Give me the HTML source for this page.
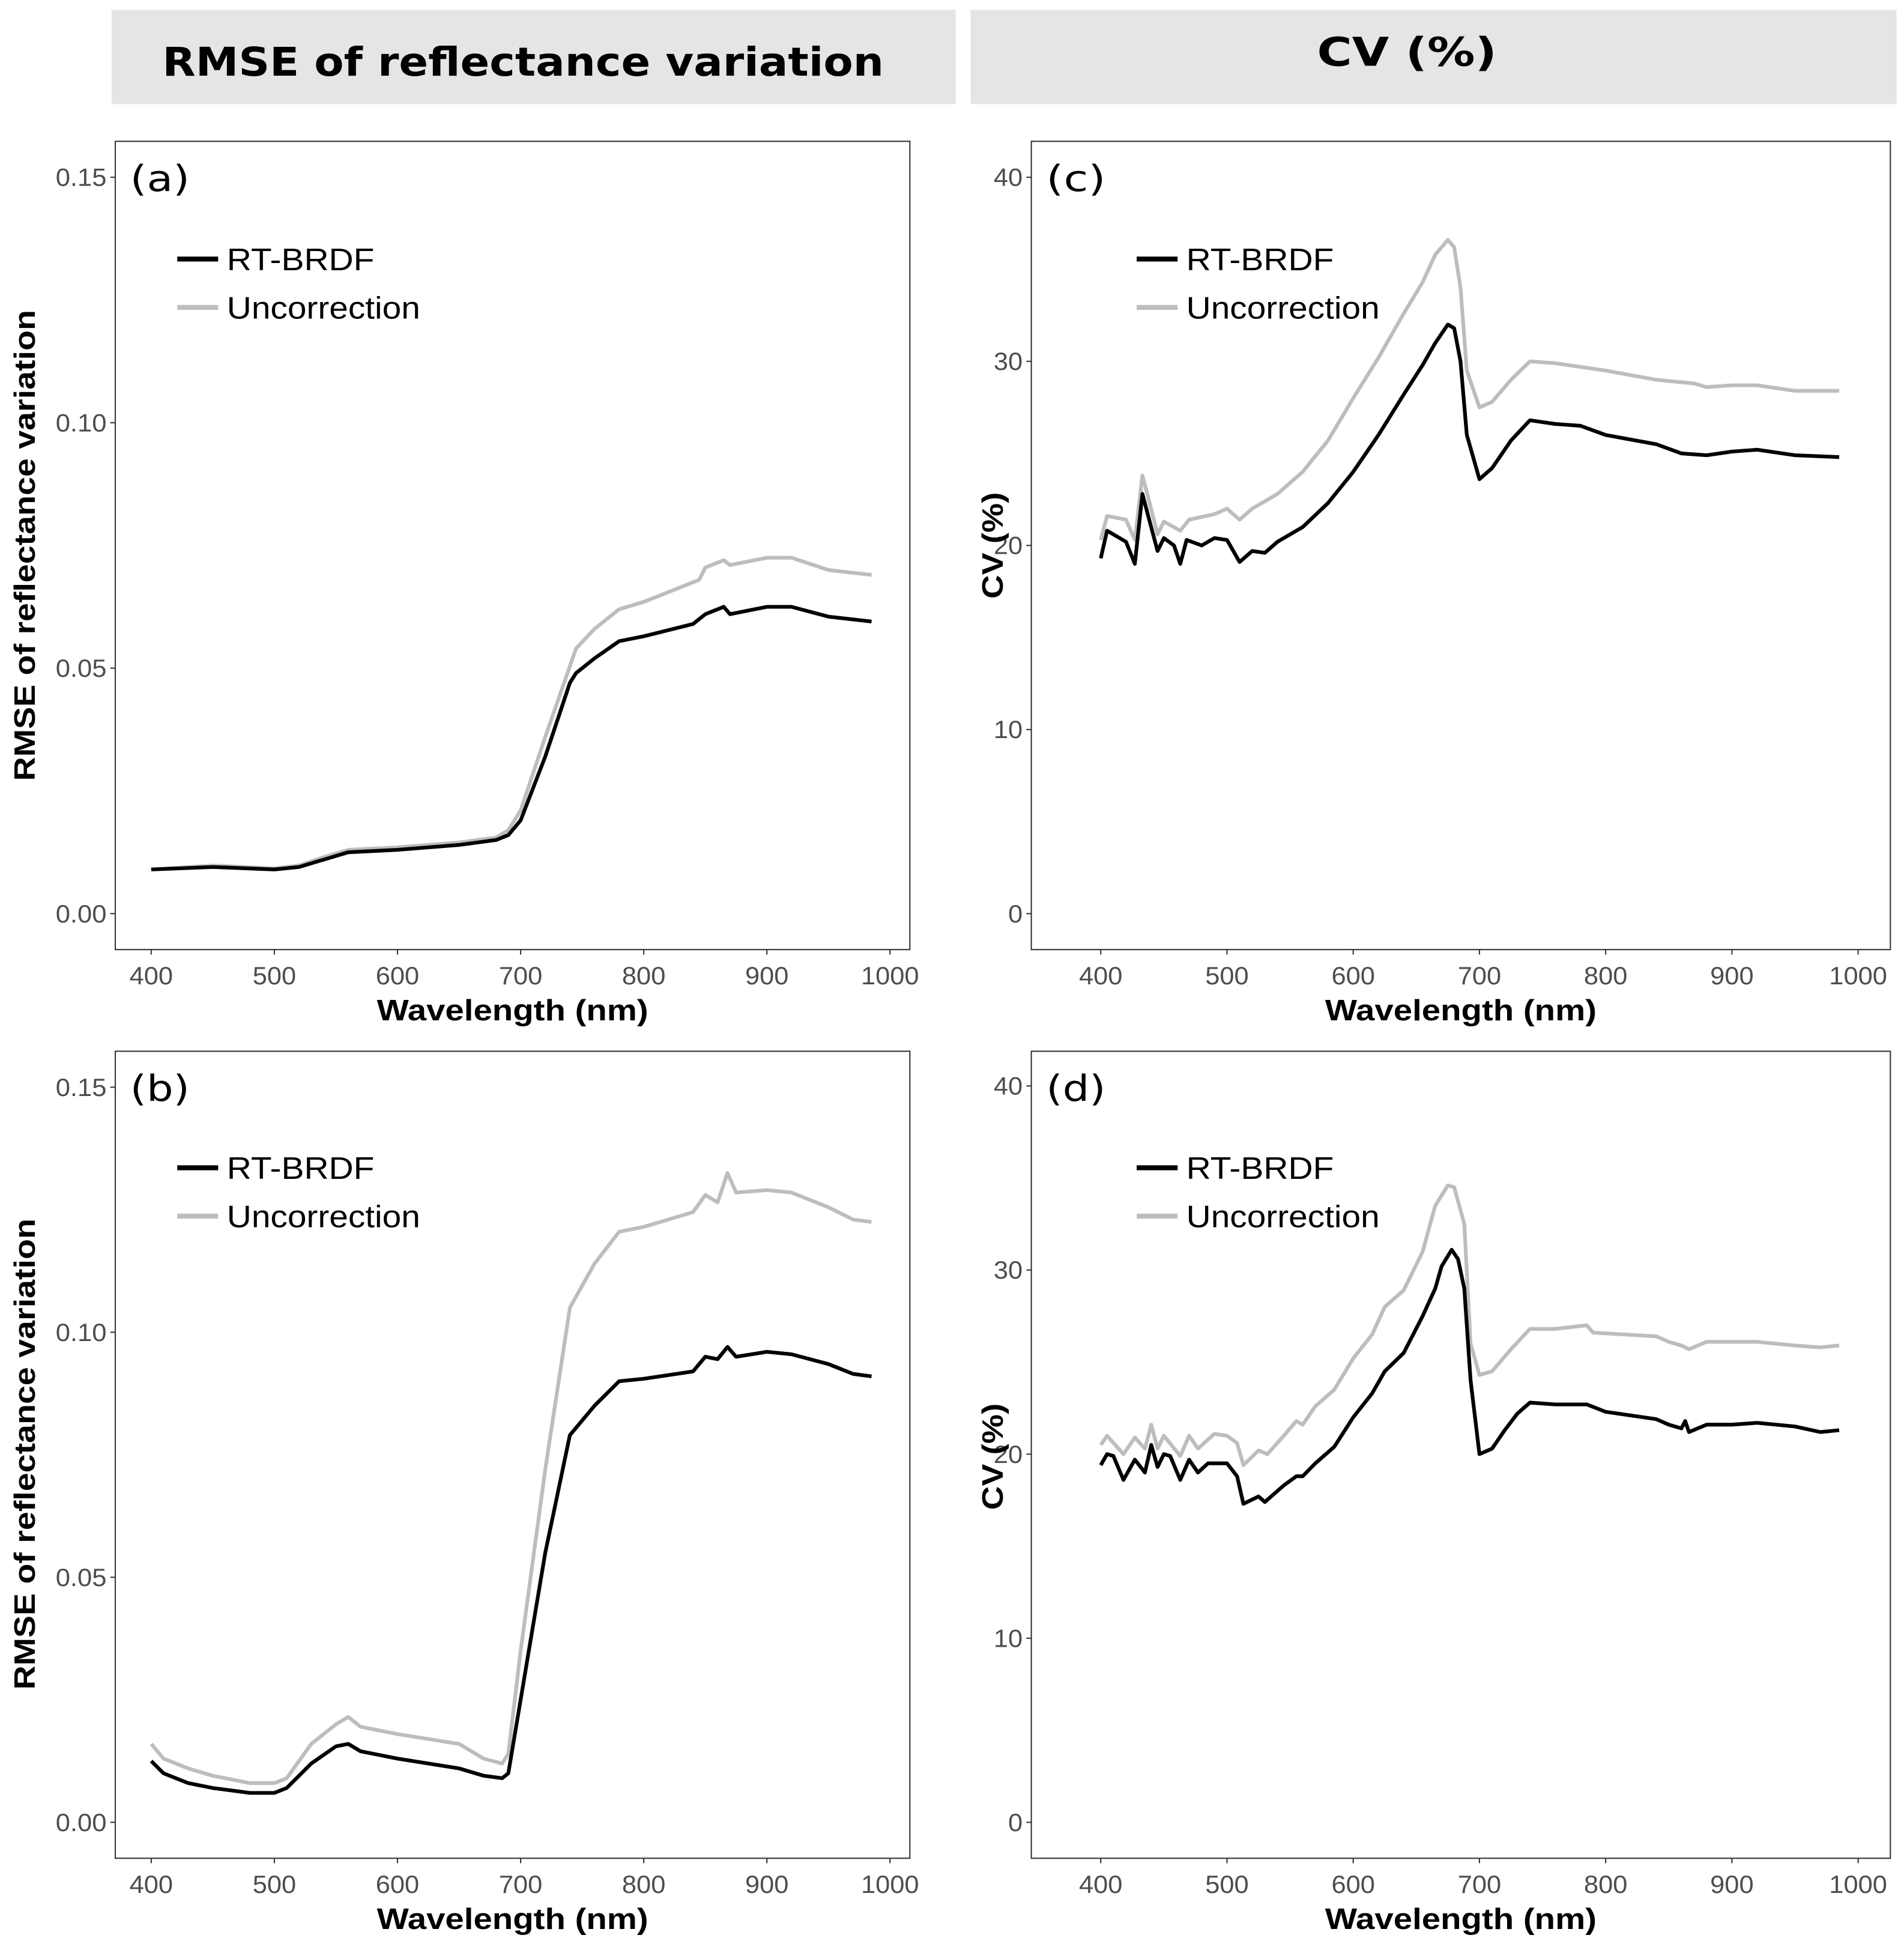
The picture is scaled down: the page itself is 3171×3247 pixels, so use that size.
<!DOCTYPE html>
<html><head><meta charset="utf-8">
<style>
html,body{margin:0;padding:0;background:#fff;}
svg{display:block;}
</style></head>
<body>
<svg id="fig" width="3171" height="3247" viewBox="0 0 1536 1573" preserveAspectRatio="none" xmlns="http://www.w3.org/2000/svg">
<rect x="0" y="0" width="1536" height="1573" fill="#fff"/>
<rect x="90" y="8" width="681" height="76" fill="#e5e5e5"/>
<text x="422" y="61" text-anchor="middle" font-family="DejaVu Sans, Liberation Sans, sans-serif" font-weight="bold" font-size="32" textLength="582" lengthAdjust="spacingAndGlyphs">RMSE of reflectance variation</text>
<rect x="783" y="8" width="747" height="76" fill="#e5e5e5"/>
<text x="1135" y="53" text-anchor="middle" font-family="DejaVu Sans, Liberation Sans, sans-serif" font-weight="bold" font-size="32" textLength="145" lengthAdjust="spacingAndGlyphs">CV (%)</text>
</svg>
<script>
// ---------- data ----------
const xTicks = [400,500,600,700,800,900,1000];
const rmseTicks = [0.00,0.05,0.10,0.15];
const rmseTickLabels = ["0.00","0.05","0.10","0.15"];
const cvTicks = [0,10,20,30,40];
const cvTickLabels = ["0","10","20","30","40"];

const aBlackWl = [400,450,500,520,540,560,600,650,680,690,700,720,740,745,760,780,800,840,850,865,870,900,920,950,985];
const aBlackVal = [0.009,0.0095,0.009,0.0095,0.011,0.0125,0.013,0.014,0.015,0.016,0.019,0.032,0.047,0.049,0.052,0.0555,0.0565,0.059,0.061,0.0625,0.061,0.0625,0.0625,0.0605,0.0595];
const aGrayWl = [400,450,500,520,540,560,600,650,680,690,700,720,745,760,780,800,845,850,865,870,900,920,950,985];
const aGrayVal = [0.009,0.0098,0.0092,0.0098,0.0115,0.013,0.0135,0.0145,0.0155,0.017,0.021,0.036,0.054,0.058,0.062,0.0635,0.068,0.0705,0.072,0.071,0.0725,0.0725,0.070,0.069];

const bBlackWl = [400,410,430,450,480,500,510,530,550,560,570,600,650,670,685,690,700,720,740,760,780,800,840,850,860,868,875,900,920,950,970,985];
const bBlackVal = [0.0125,0.010,0.008,0.007,0.006,0.006,0.007,0.012,0.0155,0.016,0.0145,0.013,0.011,0.0095,0.009,0.010,0.025,0.055,0.079,0.085,0.090,0.0905,0.092,0.095,0.0945,0.097,0.095,0.096,0.0955,0.0935,0.0915,0.091];
const bGrayWl = [400,410,430,450,480,500,510,530,550,560,570,600,650,670,685,690,700,720,740,760,780,800,840,850,860,868,875,900,920,950,970,985];
const bGrayVal = [0.016,0.013,0.011,0.0095,0.008,0.008,0.009,0.016,0.020,0.0215,0.0195,0.018,0.016,0.013,0.012,0.014,0.035,0.072,0.105,0.114,0.1205,0.1215,0.1245,0.128,0.1265,0.1325,0.1285,0.129,0.1285,0.1255,0.123,0.1225];

const cBlackWl = [400,405,420,427,433,438,445,450,458,463,468,480,490,500,510,520,530,540,560,580,600,620,640,655,665,675,680,685,690,700,710,725,740,760,780,800,840,860,880,900,920,950,985];
const cBlackVal = [19.3,20.8,20.2,19.0,22.8,21.5,19.7,20.4,20.0,19.0,20.3,20.0,20.4,20.3,19.1,19.7,19.6,20.2,21.0,22.3,24.0,26.0,28.2,29.8,31.0,32.0,31.8,30.0,26.0,23.6,24.2,25.7,26.8,26.6,26.5,26.0,25.5,25.0,24.9,25.1,25.2,24.9,24.8];
const cGrayWl = [400,405,420,427,433,438,445,450,463,470,490,500,510,520,540,560,580,600,620,640,655,665,675,680,685,690,700,710,725,740,760,780,800,840,870,880,900,920,950,985];
const cGrayVal = [20.3,21.6,21.4,20.3,23.8,22.5,20.6,21.3,20.8,21.4,21.7,22.0,21.4,22.0,22.8,24.0,25.7,28.0,30.2,32.6,34.3,35.8,36.6,36.2,34.0,29.5,27.5,27.8,29.0,30.0,29.9,29.7,29.5,29.0,28.8,28.6,28.7,28.7,28.4,28.4];

const dBlackWl = [400,405,410,418,427,435,440,445,450,455,463,470,477,485,500,508,513,525,530,545,555,560,570,585,600,615,625,640,655,665,670,678,683,688,693,700,710,720,730,740,760,785,800,840,850,860,863,866,880,900,920,950,970,985];
const dBlackVal = [19.4,20.0,19.9,18.6,19.7,19.0,20.5,19.3,20.0,19.9,18.6,19.7,19.0,19.5,19.5,18.8,17.3,17.7,17.4,18.3,18.8,18.8,19.5,20.4,22.0,23.3,24.5,25.5,27.5,29.0,30.2,31.1,30.6,29.0,24.0,20.0,20.3,21.3,22.2,22.8,22.7,22.7,22.3,21.9,21.6,21.4,21.8,21.2,21.6,21.6,21.7,21.5,21.2,21.3];
const dGrayWl = [400,405,418,427,435,440,445,450,463,470,477,490,500,508,513,525,532,545,555,560,570,585,600,615,625,640,655,665,675,680,688,693,700,710,725,740,760,785,790,840,850,860,866,880,900,920,950,970,985];
const dGrayVal = [20.5,21.0,20.0,20.9,20.3,21.6,20.3,21.0,19.9,21.0,20.3,21.1,21.0,20.6,19.4,20.2,20.0,21.0,21.8,21.6,22.6,23.5,25.2,26.5,28.0,28.9,31.0,33.5,34.6,34.5,32.5,26.0,24.3,24.5,25.7,26.8,26.8,27.0,26.6,26.4,26.1,25.9,25.7,26.1,26.1,26.1,25.9,25.8,25.9];

// ---------- drawing ----------
const NS = "http://www.w3.org/2000/svg";
const svg = document.getElementById('fig');
function mk(tag, attrs, parent){
  const e = document.createElementNS(NS, tag);
  for (const k in attrs) e.setAttribute(k, attrs[k]);
  (parent||svg).appendChild(e);
  return e;
}
const FONT = "Liberation Sans, DejaVu Sans, sans-serif";
function numLen(s){ let w=0; for (const c of s) w += (c === '.') ? 6 : 11.7; return w; }

function panel(p){
  const g = mk('g', {});
  
  
  const xs = v => p.x400 + (v - 400) * (p.x1000 - p.x400) / 600;
  const ys = v => p.y0 + (v - p.yMin) * (p.yTop - p.y0) / (p.yMax - p.yMin);
  const frame = mk('rect', {x:p.L, y:p.T, width:p.R-p.L, height:p.B-p.T, fill:'none', stroke:'#333', 'stroke-width':1}, g);
  
  
  p.yTicks.forEach((t, i) => {
    const y = ys(t);
    const tk = mk('line', {x1:p.L-4, x2:p.L, y1:y, y2:y, stroke:'#333', 'stroke-width':1}, g);
    
    
    const tl = mk('text', {x:p.L-7, y:y+7, 'text-anchor':'end', 'font-family':FONT, 'font-size':20, fill:'#4d4d4d', textLength:numLen(p.yLabels[i]), lengthAdjust:'spacingAndGlyphs'}, g);
    
    
    tl.textContent = p.yLabels[i];
  });
  xTicks.forEach(t => {
    const x = xs(t);
    const tk = mk('line', {x1:x, x2:x, y1:p.B, y2:p.B+4, stroke:'#333', 'stroke-width':1}, g);
    
    
    const tl = mk('text', {x:x, y:p.B+28, 'text-anchor':'middle', 'font-family':FONT, 'font-size':20, fill:'#4d4d4d', textLength:numLen(String(t)), lengthAdjust:'spacingAndGlyphs'}, g);
    
    
    tl.textContent = String(t);
  });
  const xt = mk('text', {x:(p.L+p.R)/2, y:p.B+57, 'text-anchor':'middle', 'font-family':FONT, 'font-weight':'bold', 'font-size':24, fill:'#000', textLength:219, lengthAdjust:'spacingAndGlyphs'}, g);
  
  
  xt.textContent = 'Wavelength (nm)';
  const ytx = p.ytX, yty = p.ytY;
  const yt = mk('text', {x:ytx, y:yty, transform:'rotate(-90 '+ytx+' '+yty+')', 'text-anchor':'middle', 'font-family':FONT, 'font-weight':'bold', 'font-size':24, fill:'#000', textLength:p.ytLen, lengthAdjust:'spacingAndGlyphs'}, g);
  
  
  yt.textContent = p.yTitle;
  const series = [[p.grayWl, p.grayVal, '#bdbdbd', 'uncorrection-line'], [p.blackWl, p.blackVal, '#000', 'rt-brdf-line']];
  series.forEach(s => {
    const d = s[0].map((w, i) => (i ? 'L' : 'M') + xs(w).toFixed(2) + ' ' + ys(s[1][i]).toFixed(2)).join(' ');
    const path = mk('path', {d:d, fill:'none', stroke:s[2], 'stroke-width':3, 'stroke-linejoin':'round'}, g);
    
    
  });
  const pl = mk('text', {x:p.L+12, y:p.T+40, 'font-family':"DejaVu Sans, sans-serif", 'font-size':29, fill:'#000', textLength:48, lengthAdjust:'spacingAndGlyphs'}, g);
  
  
  pl.textContent = '(' + p.id + ')';
  const lg = mk('g', {}, g);
  
  
  [['RT-BRDF', '#000', 0, 119], ['Uncorrection', '#bdbdbd', 39, 156]].forEach(e => {
    const ln = mk('line', {x1:p.lgX, x2:p.lgX+33, y1:p.lgY+e[2], y2:p.lgY+e[2], stroke:e[1], 'stroke-width':4}, lg);
    
    
    const lt = mk('text', {x:p.lgX+40, y:p.lgY+e[2]+9, 'font-family':FONT, 'font-size':25, fill:'#000', textLength:e[3], lengthAdjust:'spacingAndGlyphs'}, lg);
    
    
    lt.textContent = e[0];
  });
}

panel({id:'a', L:93, R:734, T:114, B:766, x400:122, x1000:718, yMin:0, yMax:0.15, y0:737, yTop:143,
  yTicks:rmseTicks, yLabels:rmseTickLabels, yTitle:'RMSE of reflectance variation', ytX:28, ytY:440, ytLen:380,
  blackWl:aBlackWl, blackVal:aBlackVal, grayWl:aGrayWl, grayVal:aGrayVal, lgX:143, lgY:209});
panel({id:'b', L:93, R:734, T:848, B:1499, x400:122, x1000:718, yMin:0, yMax:0.15, y0:1470, yTop:877,
  yTicks:rmseTicks, yLabels:rmseTickLabels, yTitle:'RMSE of reflectance variation', ytX:28, ytY:1173, ytLen:380,
  blackWl:bBlackWl, blackVal:bBlackVal, grayWl:bGrayWl, grayVal:bGrayVal, lgX:143, lgY:942});
panel({id:'c', L:832, R:1525, T:114, B:766, x400:888, x1000:1499, yMin:0, yMax:40, y0:737, yTop:143,
  yTicks:cvTicks, yLabels:cvTickLabels, yTitle:'CV (%)', ytX:809, ytY:440, ytLen:86,
  blackWl:cBlackWl, blackVal:cBlackVal, grayWl:cGrayWl, grayVal:cGrayVal, lgX:917, lgY:209});
panel({id:'d', L:832, R:1525, T:848, B:1499, x400:888, x1000:1499, yMin:0, yMax:40, y0:1470, yTop:876,
  yTicks:cvTicks, yLabels:cvTickLabels, yTitle:'CV (%)', ytX:809, ytY:1175, ytLen:86,
  blackWl:dBlackWl, blackVal:dBlackVal, grayWl:dGrayWl, grayVal:dGrayVal, lgX:917, lgY:942});
</script>
</body></html>
